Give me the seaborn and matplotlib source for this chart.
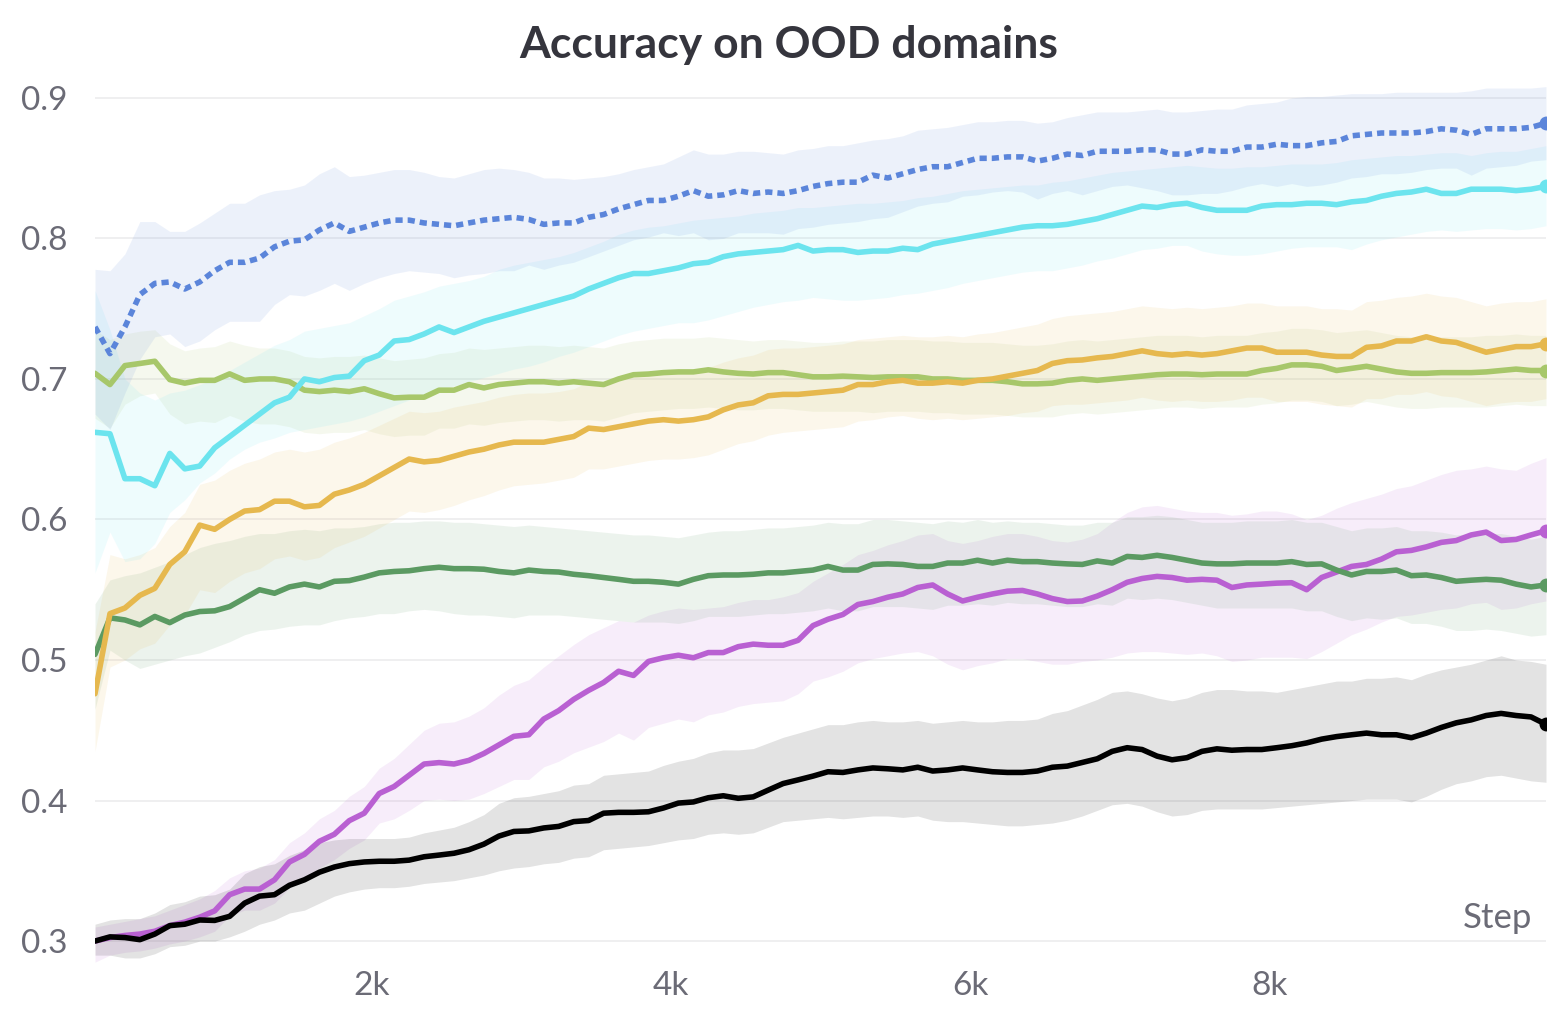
import numpy as np
import matplotlib
matplotlib.use("Agg")
import matplotlib.pyplot as plt
import seaborn as sns

# training steps (one point every 100 steps)
steps = np.arange(150, 9851, 100)

# --- blue, dotted ---
blue = [0.737,0.718,0.737,0.760,0.768,0.769,0.764,0.769,0.777,0.783,
        0.783,0.786,0.794,0.798,0.799,0.806,0.811,0.805,0.808,0.811,
        0.813,0.813,0.811,0.810,0.809,0.811,0.813,0.814,0.815,0.8135,
        0.810,0.811,0.811,0.815,0.817,0.821,0.824,0.827,0.827,0.830,
        0.834,0.830,0.831,0.834,0.832,0.833,0.832,0.834,0.837,0.839,
        0.840,0.840,0.845,0.843,0.846,0.849,0.851,0.851,0.854,0.857,
        0.857,0.858,0.858,0.855,0.857,0.860,0.859,0.862,0.862,0.862,
        0.863,0.863,0.860,0.860,0.863,0.862,0.862,0.865,0.865,0.867,
        0.866,0.866,0.868,0.869,0.873,0.874,0.875,0.875,0.875,0.876,
        0.878,0.877,0.874,0.878,0.878,0.878,0.879,0.882]
blue_hi = [0.778,0.777,0.789,0.812,0.812,0.805,0.805,0.811,0.818,0.825,
           0.825,0.831,0.834,0.835,0.838,0.846,0.851,0.844,0.845,0.847,
           0.849,0.849,0.847,0.844,0.843,0.846,0.849,0.850,0.849,
           0.847,0.843,0.843,0.842,0.843,0.844,0.846,0.849,0.851,0.853,
           0.858,0.863,0.860,0.860,0.862,0.862,0.861,0.860,0.863,0.864,
           0.866,0.866,0.868,0.870,0.871,
           0.873,0.877,0.878,0.879,0.881,0.883,0.883,0.884,0.884,0.882,
           0.883,0.886,0.888,0.890,0.890,0.890,0.891,0.892,0.890,0.890,
           0.891,0.892,0.892,0.895,0.896,0.897,
           0.900,0.901,0.901,0.902,0.903,0.903,0.903,0.904,0.904,0.904,
           0.904,0.904,0.905,0.907,0.907,0.907,0.907,0.908]
blue_lo = [0.675,0.664,0.690,0.714,0.730,0.732,0.723,0.727,0.735,0.741,
           0.741,0.741,0.753,0.760,0.759,0.763,0.768,0.763,0.768,0.772,
           0.775,0.777,0.776,0.775,0.772,0.774,0.775,0.777,0.777,
           0.781,0.778,0.781,0.783,0.787,0.791,0.795,0.799,0.801,0.804,
           0.802,0.804,0.799,0.800,0.804,0.804,0.804,0.803,0.807,0.808,
           0.810,0.811,0.812,0.814,0.815,
           0.819,0.823,0.825,0.826,0.830,0.831,0.833,0.834,0.833,0.828,
           0.832,0.834,0.831,0.834,0.837,0.838,0.836,0.834,0.831,0.831,
           0.832,0.832,0.834,0.837,0.839,0.837,
           0.839,0.837,0.838,0.840,0.843,0.844,0.846,0.846,0.847,0.849,
           0.850,0.850,0.845,0.850,0.851,0.852,0.855,0.856]

# --- cyan ---
cyan = [0.662,0.661,0.629,0.629,0.624,0.647,0.636,0.638,0.651,0.659,
        0.667,0.675,0.683,0.687,0.700,0.698,0.701,0.702,0.713,0.717,0.727,
        0.728,0.732,0.737,0.733,0.737,0.741,
        0.744,0.747,0.750,0.753,0.756,0.759,0.764,0.768,0.772,0.775,
        0.775,0.777,0.779,0.782,0.783,0.787,0.789,0.790,0.791,0.792,
        0.795,0.791,0.792,0.792,0.790,0.791,0.791,
        0.793,0.792,0.796,0.798,0.800,0.802,0.804,0.806,0.808,0.809,
        0.809,0.810,0.812,0.814,0.817,0.820,0.823,0.822,0.824,0.825,
        0.822,0.820,0.820,0.820,0.823,0.824,
        0.824,0.825,0.825,0.824,0.826,0.827,0.830,0.832,0.833,0.835,
        0.832,0.832,0.835,0.835,0.835,0.834,0.835,0.837]
cyan_hi = [0.763,0.735,0.700,0.690,0.685,0.690,0.692,0.696,0.700,0.706,
           0.712,0.718,0.724,0.728,0.734,0.736,0.738,0.740,0.745,0.750,0.756,
           0.759,0.762,0.766,0.768,0.770,0.773,0.778,0.781,0.783,0.785,
           0.787,0.790,0.794,0.798,0.803,0.806,0.808,0.809,0.811,0.813,
           0.814,0.815,0.816,0.818,0.819,0.820,0.822,0.822,0.823,0.824,
           0.825,0.825,0.826,
           0.827,0.829,0.830,0.832,0.834,0.835,0.836,0.837,0.838,0.838,
           0.840,0.841,0.843,0.845,0.847,0.848,0.849,0.850,0.851,0.852,
           0.851,0.850,0.850,0.851,0.851,0.852,
           0.853,0.853,0.853,0.854,0.856,0.857,0.858,0.859,0.859,0.860,
           0.861,0.861,0.859,0.861,0.862,0.862,0.864,0.866]
cyan_lo = [0.562,0.591,0.570,0.572,0.583,0.605,0.614,0.626,0.633,0.643,
           0.650,0.655,0.658,0.662,0.664,0.666,0.668,0.670,0.673,0.677,0.681,
           0.685,0.689,0.692,0.695,0.698,0.701,0.704,0.707,0.709,0.712,
           0.716,0.719,0.723,0.727,0.731,0.734,0.736,0.738,0.740,0.740,
           0.742,0.745,0.748,0.751,0.753,0.755,0.756,0.758,0.757,0.756,
           0.756,0.757,0.758,
           0.760,0.761,0.763,0.765,0.768,0.770,0.772,0.774,0.776,0.777,
           0.777,0.779,0.781,0.784,0.786,0.789,0.792,0.793,0.795,0.795,
           0.791,0.789,0.788,0.788,0.789,0.791,
           0.793,0.794,0.794,0.794,0.792,0.796,0.799,0.801,0.803,0.805,
           0.806,0.805,0.806,0.807,0.807,0.806,0.807,0.809]

# --- olive green ---
olive = [0.704,0.696,0.7095,0.711,0.7126,0.6995,0.697,0.699,0.699,0.7036,
         0.699,0.700,0.700,0.698,0.692,0.691,0.692,0.691,0.693,0.6895,
         0.6865,0.687,0.687,0.692,0.692,0.696,0.6936,0.696,0.697,
         0.698,0.698,0.697,0.698,0.697,0.696,0.700,0.703,0.7035,0.7045,
         0.705,0.705,0.7065,0.705,0.704,0.7035,0.7045,0.7045,0.703,0.7015,
         0.7015,0.702,0.7015,0.701,0.7015,
         0.7015,0.7015,0.700,0.700,0.699,0.699,0.699,0.698,0.6965,0.6965,
         0.697,0.699,0.700,0.699,0.700,0.701,0.702,0.703,0.7035,0.7035,
         0.703,0.7035,0.7035,0.7035,0.706,0.7075,
         0.710,0.710,0.709,0.706,0.7075,0.709,0.707,0.705,0.704,0.704,
         0.7045,0.7045,0.7045,0.705,0.706,0.707,0.706,0.706]
olive_hi = [0.735,0.728,0.732,0.734,0.735,0.725,0.720,0.722,0.723,0.727,0.724,
            0.722,0.722,0.720,0.716,0.715,0.716,0.716,0.717,0.715,0.713,
            0.714,0.715,0.718,0.719,0.722,0.721,0.722,0.723,
            0.724,0.724,0.723,0.724,0.723,0.722,0.725,0.727,0.728,0.729,
            0.729,0.729,0.730,0.729,0.728,0.727,0.728,0.728,0.727,0.726,
            0.726,0.727,0.727,0.727,0.728,
            0.728,0.728,0.727,0.727,0.726,0.726,0.726,0.725,0.724,0.724,
            0.725,0.727,0.728,0.727,0.728,0.729,0.730,0.731,0.731,0.731,
            0.730,0.731,0.731,0.731,0.733,0.734,
            0.736,0.736,0.735,0.733,0.734,0.735,0.733,0.731,0.730,0.730,
            0.730,0.730,0.730,0.731,0.731,0.732,0.731,0.731]
olive_lo = [0.672,0.665,0.682,0.688,0.690,0.675,0.668,0.670,0.669,0.674,0.670,
            0.668,0.668,0.666,0.662,0.661,0.662,0.662,0.664,0.661,0.659,
            0.660,0.660,0.665,0.665,0.668,0.667,0.669,0.670,
            0.671,0.671,0.670,0.671,0.671,0.670,0.673,0.676,0.677,0.678,
            0.679,0.679,0.680,0.679,0.678,0.678,0.679,0.679,0.678,0.677,
            0.677,0.677,0.677,0.676,0.677,
            0.677,0.677,0.676,0.676,0.675,0.675,0.675,0.674,0.673,0.673,
            0.673,0.675,0.676,0.675,0.676,0.677,0.678,0.679,0.680,0.680,
            0.679,0.680,0.680,0.680,0.682,0.683,
            0.685,0.685,0.684,0.681,0.682,0.684,0.682,0.680,0.679,0.679,
            0.680,0.680,0.680,0.680,0.681,0.682,0.681,0.681]

# --- orange ---
orange = [0.476,0.533,0.537,0.546,0.551,0.568,0.577,0.596,0.593,0.600,
          0.606,0.607,0.613,0.613,0.609,0.610,0.618,0.621,0.625,0.631,
          0.637,0.643,0.641,0.642,0.645,0.648,0.650,0.653,0.655,
          0.655,0.655,0.657,0.659,0.665,0.664,0.666,0.668,0.670,0.671,
          0.670,0.671,0.673,0.678,0.6815,0.683,0.688,0.689,0.689,0.690,
          0.691,0.692,0.696,0.696,0.698,
          0.699,0.697,0.697,0.698,0.697,0.699,0.700,0.702,0.704,0.706,
          0.711,0.713,0.7135,0.715,0.716,0.718,0.720,0.718,0.717,0.718,
          0.717,0.718,0.720,0.722,0.722,0.719,
          0.719,0.719,0.717,0.716,0.716,0.7225,0.7235,0.727,0.727,0.730,
          0.727,0.726,0.7225,0.719,0.721,0.723,0.723,0.725]
orange_hi = [0.520,0.575,0.572,0.575,0.580,0.595,0.605,0.625,0.628,0.635,
             0.640,0.643,0.648,0.650,0.648,0.650,0.655,0.658,0.662,0.667,
             0.672,0.677,0.676,0.677,0.680,0.682,0.684,0.687,0.689,
             0.690,0.690,0.691,0.693,0.698,0.698,0.700,0.702,0.704,0.705,
             0.705,0.706,0.708,0.712,0.715,0.717,0.721,0.722,0.722,0.723,
             0.724,0.725,0.728,0.729,0.730,
             0.731,0.730,0.730,0.731,0.730,0.732,0.733,0.735,0.737,0.739,
             0.743,0.745,0.746,0.747,0.748,0.750,0.752,0.751,0.750,0.751,
             0.750,0.751,0.752,0.754,0.754,0.752,
             0.752,0.752,0.750,0.750,0.749,0.755,0.756,0.758,0.759,0.761,
             0.759,0.758,0.755,0.752,0.754,0.755,0.755,0.757]
orange_lo = [0.435,0.495,0.500,0.508,0.512,0.525,0.532,0.550,0.548,0.556,
             0.562,0.565,0.572,0.574,0.571,0.573,0.580,0.584,0.588,0.594,
             0.600,0.606,0.605,0.607,0.610,0.614,0.617,0.621,0.624,
             0.625,0.626,0.628,0.630,0.636,0.636,0.638,0.640,0.642,0.643,
             0.643,0.644,0.646,0.650,0.654,0.656,0.660,0.662,0.663,0.664,
             0.665,0.666,0.670,0.671,0.673,
             0.674,0.672,0.671,0.672,0.671,0.672,0.673,0.674,0.676,0.677,
             0.681,0.682,0.682,0.683,0.684,0.685,0.687,0.685,0.684,0.685,
             0.684,0.684,0.685,0.687,0.687,0.684,
             0.684,0.684,0.682,0.681,0.680,0.686,0.686,0.689,0.689,0.691,
             0.688,0.687,0.684,0.681,0.683,0.684,0.684,0.686]

# --- dark green ---
dgreen = [0.504,0.530,0.5285,0.525,0.531,0.5266,0.532,0.5345,0.535,0.538,
          0.544,0.550,0.5475,0.552,0.554,0.552,0.556,0.5565,0.559,0.562,
          0.563,0.5635,0.565,0.566,0.565,0.565,0.5646,0.563,0.562,
          0.564,0.563,0.5626,0.561,0.560,0.5587,0.5574,0.556,0.556,0.5553,
          0.554,0.5574,0.560,0.5605,0.5605,0.561,0.562,0.562,0.563,0.564,
          0.5666,0.564,0.564,0.568,0.5684,
          0.568,0.5666,0.5666,0.569,0.569,0.571,0.569,0.571,0.570,0.570,
          0.569,0.5684,0.568,0.5705,0.569,0.5737,0.573,0.5745,0.573,0.571,
          0.569,0.5684,0.5684,0.569,0.569,0.569,
          0.570,0.568,0.5684,0.564,0.5605,0.563,0.563,0.564,0.560,0.5605,
          0.5587,0.556,0.5568,0.5574,0.5568,0.554,0.552,0.5534]
dgreen_hi = [0.540,0.557,0.560,0.562,0.566,0.570,0.575,0.580,0.583,0.585,
             0.588,0.590,0.590,0.592,0.593,0.592,0.594,0.594,0.595,0.597,
             0.598,0.598,0.599,0.599,0.598,0.598,0.597,0.596,0.595,
             0.596,0.595,0.594,0.593,0.592,0.591,0.590,0.589,0.589,0.588,
             0.587,0.589,0.591,0.592,0.592,0.593,0.594,0.594,0.595,0.596,
             0.598,0.597,0.597,0.600,0.600,
             0.599,0.598,0.597,0.599,0.598,0.600,0.598,0.599,0.598,0.598,
             0.597,0.596,0.596,0.598,0.598,0.602,0.602,0.603,0.602,0.600,
             0.598,0.598,0.598,0.599,0.599,0.599,
             0.600,0.598,0.598,0.595,0.592,0.594,0.594,0.595,0.592,0.592,
             0.591,0.589,0.590,0.590,0.590,0.588,0.586,0.588]
dgreen_lo = [0.465,0.507,0.500,0.494,0.497,0.500,0.503,0.505,0.509,0.513,
             0.518,0.521,0.522,0.524,0.525,0.525,0.528,0.530,0.531,0.533,
             0.533,0.535,0.536,0.535,0.533,0.532,0.532,0.531,0.530,
             0.532,0.532,0.532,0.531,0.530,0.529,0.528,0.527,0.527,0.527,
             0.526,0.528,0.531,0.531,0.531,0.532,0.533,0.533,0.534,0.535,
             0.537,0.535,0.535,0.538,0.538,
             0.538,0.537,0.536,0.539,0.539,0.540,0.539,0.541,0.540,0.540,
             0.539,0.538,0.538,0.540,0.539,0.544,0.543,0.544,0.543,0.541,
             0.539,0.537,0.537,0.537,0.537,0.537,
             0.537,0.535,0.535,0.531,0.528,0.530,0.529,0.530,0.526,0.526,
             0.524,0.521,0.521,0.522,0.521,0.519,0.517,0.518]

# --- purple ---
purple = [0.300,0.3025,0.304,0.305,0.307,0.311,0.3135,0.317,0.3215,0.333,
          0.337,0.337,0.3436,0.3563,0.3617,0.371,0.376,0.3857,0.391,0.405,
          0.410,0.418,0.426,0.427,0.426,0.4286,0.4335,0.4396,0.4457,
          0.4468,0.458,0.464,0.472,0.4784,0.484,0.492,0.489,0.499,0.5016,
          0.5034,0.5016,0.5053,0.5053,0.5095,0.5113,0.5105,0.5105,0.514,0.5245,
          0.529,0.5324,0.5395,0.5416,0.5447,
          0.547,0.5516,0.5534,0.547,0.542,0.5447,0.547,0.549,0.5495,0.547,
          0.5437,0.5416,0.542,0.5455,0.550,0.5553,0.558,0.5595,0.5587,0.5568,
          0.5574,0.5568,0.5516,0.5534,0.554,0.5547,
          0.555,0.550,0.5587,0.5626,0.5666,0.568,0.5718,0.577,0.578,0.5805,
          0.5837,0.585,0.589,0.591,0.585,0.5858,0.589,0.592]
purple_hi = [0.310,0.312,0.314,0.316,0.318,0.322,0.326,0.330,0.336,0.345,
             0.350,0.352,0.358,0.370,0.377,0.387,0.393,0.403,0.410,0.423,
             0.430,0.440,0.450,0.455,0.456,0.460,0.466,0.475,0.482,
             0.486,0.495,0.503,0.511,0.518,0.523,0.528,0.527,0.532,0.535,
             0.537,0.536,0.537,0.538,0.541,0.543,0.543,0.545,0.548,0.556,
             0.562,0.568,0.575,0.578,0.582,
             0.585,0.589,0.590,0.585,0.583,0.585,0.588,0.590,0.590,0.588,
             0.585,0.584,0.586,0.590,0.598,0.605,0.609,0.610,0.608,0.606,
             0.605,0.605,0.603,0.604,0.606,0.606,
             0.604,0.600,0.603,0.608,0.612,0.615,0.618,0.622,0.624,0.628,
             0.632,0.635,0.636,0.638,0.636,0.635,0.640,0.644]
purple_lo = [0.285,0.290,0.292,0.293,0.295,0.298,0.300,0.303,0.307,0.318,
             0.322,0.322,0.327,0.338,0.344,0.352,0.358,0.366,0.372,0.384,
             0.387,0.393,0.400,0.401,0.400,0.401,0.405,0.410,0.415,
             0.415,0.424,0.428,0.434,0.438,0.442,0.448,0.443,0.452,0.455,
             0.458,0.456,0.461,0.463,0.467,0.469,0.470,0.471,0.476,0.485,
             0.488,0.492,0.498,0.501,0.503,
             0.505,0.506,0.503,0.497,0.493,0.496,0.498,0.501,0.501,0.499,
             0.497,0.497,0.499,0.500,0.502,0.505,0.506,0.506,0.505,0.504,
             0.505,0.503,0.499,0.500,0.502,0.502,
             0.502,0.501,0.506,0.512,0.518,0.522,0.527,0.531,0.532,0.534,
             0.536,0.537,0.540,0.541,0.536,0.537,0.540,0.542]

# --- black ---
black = [0.300,0.303,0.3025,0.301,0.305,0.311,0.312,0.315,0.3147,0.3176,
         0.327,0.332,0.333,0.3397,0.3436,0.349,0.3527,0.3551,0.3563,0.3568,
         0.3568,0.3576,0.360,0.3612,0.3625,0.365,0.369,0.3747,0.378,
         0.3784,0.3805,0.3816,0.385,0.3858,0.391,0.3916,0.3916,0.392,0.3947,
         0.3982,0.399,0.402,0.4034,0.4016,0.4026,0.4074,0.4121,0.4147,0.4174,
         0.4205,0.420,0.4218,0.4232,0.4226,
         0.4218,0.4237,0.421,0.4218,0.4232,0.4218,0.4205,0.420,0.420,0.421,
         0.4237,0.4245,0.4271,0.4297,0.435,0.4376,0.4363,0.4316,0.429,0.4305,
         0.435,0.4368,0.4358,0.4363,0.4363,0.4376,
         0.439,0.441,0.4437,0.4455,0.4468,0.448,0.4468,0.4468,0.4447,0.448,
         0.452,0.4553,0.4574,0.4605,0.462,0.4605,0.4595,0.4542]
black_hi = [0.312,0.315,0.316,0.316,0.320,0.326,0.328,0.332,0.333,0.337,
            0.348,0.353,0.355,0.361,0.365,0.370,0.372,0.373,0.373,0.373,
            0.373,0.374,0.377,0.379,0.381,0.385,0.390,0.398,0.402,
            0.403,0.405,0.407,0.411,0.412,0.418,0.419,0.420,0.421,0.425,
            0.428,0.430,0.434,0.436,0.436,0.437,0.441,0.445,0.448,0.451,
            0.454,0.454,0.456,0.457,0.456,
            0.456,0.457,0.455,0.456,0.457,0.456,0.456,0.457,0.457,0.458,
            0.462,0.464,0.468,0.472,0.477,0.478,0.476,0.473,0.471,0.473,
            0.477,0.479,0.479,0.478,0.478,0.477,
            0.479,0.481,0.483,0.485,0.485,0.487,0.487,0.488,0.486,0.490,
            0.493,0.495,0.497,0.500,0.503,0.500,0.499,0.497]
black_lo = [0.290,0.290,0.288,0.288,0.291,0.296,0.297,0.300,0.300,0.303,
            0.307,0.312,0.315,0.320,0.322,0.327,0.332,0.335,0.337,0.338,
            0.338,0.339,0.341,0.342,0.343,0.345,0.347,0.350,0.352,
            0.353,0.355,0.356,0.359,0.360,0.365,0.366,0.367,0.368,0.370,
            0.372,0.373,0.376,0.377,0.376,0.377,0.381,0.385,0.386,0.387,
            0.388,0.387,0.388,0.389,0.389,
            0.388,0.389,0.386,0.385,0.385,0.384,0.383,0.382,0.382,0.383,
            0.384,0.386,0.389,0.393,0.397,0.398,0.396,0.392,0.389,0.390,
            0.393,0.394,0.394,0.394,0.394,0.395,
            0.396,0.397,0.398,0.399,0.400,0.401,0.401,0.401,0.399,0.403,
            0.408,0.412,0.414,0.417,0.418,0.416,0.414,0.413]

# drawing order: bottom to top
runs = [
    ("purple", purple, purple_lo, purple_hi, "#b960d2", "-"),
    ("dgreen", dgreen, dgreen_lo, dgreen_hi, "#5b9a62", "-"),
    ("olive", olive, olive_lo, olive_hi, "#a7c76a", "-"),
    ("orange", orange, orange_lo, orange_hi, "#e6b84e", "-"),
    ("cyan", cyan, cyan_lo, cyan_hi, "#6ce4ee", "-"),
    ("blue", blue, blue_lo, blue_hi, "#5b85da", (0, (1.3, 0.9))),
    ("black", black, black_lo, black_hi, "#000000", "-"),
]

for name, m, lo, hi, _, _ in runs:
    assert len(m) == len(lo) == len(hi) == len(steps), (name, len(m), len(lo), len(hi))

sns.set_theme(style="white")
plt.rcParams['font.family'] = ['Lato', 'DejaVu Sans']

LW = 4.0

fig = plt.figure(figsize=(15.64, 10.30), dpi=100)
ax = fig.add_axes([95/1564, 1 - 972/1030, (1546 - 95)/1564, (972 - 81)/1030])

for name, m, lo, hi, c, ls in runs:
    ax.fill_between(steps, lo, hi, color=c, alpha=0.11, lw=0, zorder=1)

for name, m, lo, hi, c, ls in runs:
    sns.lineplot(x=steps, y=m, color=c, ax=ax, zorder=3)
    line = ax.get_lines()[-1]
    line.set_linewidth(LW)
    line.set_linestyle(ls)
    line.set_solid_joinstyle("round")
    line.set_dash_capstyle("butt")
    ax.plot(steps[-1], m[-1], "o", ms=9, color=c, mec=c, zorder=4)

ax.set_xlim(steps[0], steps[-1])
ax.set_ylim(0.278, 0.912)
ax.set_yticks([0.3, 0.4, 0.5, 0.6, 0.7, 0.8, 0.9])
ax.set_yticklabels(["0.3", "0.4", "0.5", "0.6", "0.7", "0.8", "0.9"])
ax.set_xticks([2000, 4000, 6000, 8000])
ax.set_xticklabels(["2k", "4k", "6k", "8k"])
ax.yaxis.grid(True, color="#ececee", lw=1.2)
ax.xaxis.grid(False)
ax.set_axisbelow(True)
for s in ax.spines.values():
    s.set_visible(False)
ax.spines["bottom"].set_position(("data", 0.3))

ax.tick_params(axis="y", length=0, pad=20, labelsize=24, labelcolor="#6b6b76")
ax.tick_params(axis="x", direction="inout", length=15, width=1.5, color="#dcdcdf",
               pad=14, labelsize=24, labelcolor="#6b6b76")
ax.set_xlabel("")
ax.set_ylabel("")

ax.text(0.9905, 0.3165, "Step", transform=ax.get_yaxis_transform(), ha="right",
        va="center", fontsize=25, color="#6b6b76")

fig.text(0.504, 1 - 45/1030, "Accuracy on OOD domains", ha="center", va="center",
         fontsize=32, fontweight="bold", color="#35353d")

fig.savefig("out.png", dpi=100, facecolor="white")
